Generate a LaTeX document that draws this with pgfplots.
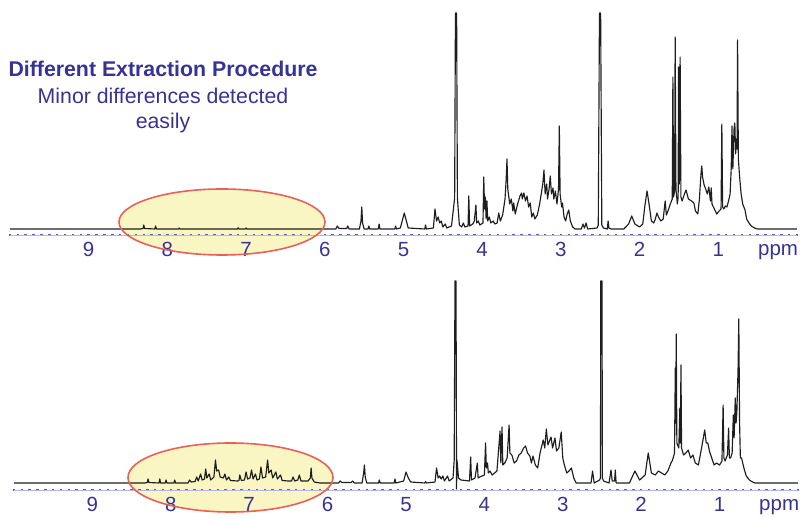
\documentclass[border=0pt]{standalone}
\usepackage{fontspec}
\setmainfont{Liberation Sans}
\usepackage{pgfplots}
\pgfplotsset{compat=1.18}
\usepackage{pgfplotstable}

\definecolor{labelblue}{RGB}{55,50,150}
\definecolor{axblue}{RGB}{90,90,210}
\definecolor{ellfill}{RGB}{250,246,196}
\definecolor{ellline}{RGB}{232,96,88}
\definecolor{spec}{RGB}{30,30,30}

% spectrum, extraction procedure A (top): ppm, height
\pgfplotstableread{
ppm h
10.0 0
8.34 0
8.31 0.5
8.30 4
8.29 0.5
8.16 0
8.15 3
8.14 0
7.86 0
7.85 1
7.84 0
7.11 0
7.10 1.2
7.09 0
7.01 0
7.00 1
6.99 0
5.86 0
5.84 3
5.82 0.5
5.72 0.5
5.71 3
5.69 0
5.56 0
5.54 8
5.53 22
5.52 6
5.50 0
5.45 0
5.44 3
5.43 0
5.32 0
5.31 5
5.30 0
5.11 0
5.10 3
5.09 0
5.04 1
5.01 10
4.99 16
4.97 10
4.94 1
4.73 0
4.72 4
4.71 0
4.62 1
4.60 20
4.58 8
4.56 12
4.54 6
4.52 8
4.50 2
4.47 5
4.45 1
4.39 3
4.35 31
4.34 216
4.325 216
4.315 31
4.29 4
4.26 2
4.24 6
4.22 2
4.18 3
4.17 33
4.16 3
4.12 5
4.10 8
4.08 24
4.07 6
4.05 8
4.03 4
3.99 6
3.98 52
3.97 20
3.96 32
3.95 10
3.94 28
3.93 8
3.91 12
3.89 6
3.86 8
3.84 5
3.81 6
3.79 16
3.77 8
3.74 14
3.71 30
3.695 50
3.685 70
3.675 40
3.65 25
3.63 30
3.61 18
3.60 26
3.58 15
3.55 25
3.52 33
3.50 36
3.49 30
3.47 36
3.45 28
3.43 33
3.41 22
3.39 26
3.37 12
3.35 16
3.33 10
3.30 14
3.27 25
3.25 35
3.23 45
3.215 59
3.20 35
3.18 45
3.17 30
3.15 40
3.135 53
3.12 35
3.10 41
3.09 30
3.07 38
3.05 25
3.03 40
3.02 103
3.01 35
2.99 22
2.98 26
2.96 12
2.94 8
2.92 15
2.90 19
2.88 8
2.85 2
2.82 0
2.74 0
2.72 5
2.70 1
2.68 6
2.66 0
2.54 1
2.525 4
2.51 216
2.495 216
2.48 4
2.46 1
2.41 0
2.40 8
2.39 1
2.36 0
2.20 0
2.14 5
2.10 13
2.06 5
2.00 2
1.96 5
1.93 25
1.905 38
1.88 25
1.85 8
1.82 6
1.80 10
1.78 16
1.76 12
1.73 8
1.70 10
1.675 28
1.66 14
1.63 20
1.61 25
1.585 30
1.577 152
1.568 32
1.555 38
1.548 192
1.538 40
1.52 25
1.51 32
1.505 162
1.497 45
1.485 172
1.475 32
1.46 28
1.43 35
1.41 39
1.38 30
1.34 28
1.31 26
1.29 18
1.26 15
1.24 30
1.22 55
1.21 63
1.20 52
1.18 44
1.16 40
1.14 35
1.12 42
1.10 28
1.09 41
1.08 25
1.05 20
1.02 15
0.99 18
0.965 20
0.955 105
0.945 22
0.93 20
0.91 23
0.89 22
0.87 28
0.85 35
0.836 60
0.826 103
0.815 60
0.80 100
0.79 106
0.78 75
0.77 90
0.762 80
0.755 189
0.745 70
0.73 53
0.71 35
0.69 25
0.66 19
0.64 10
0.61 6
0.58 3
0.54 1
0.50 0
0.00 0
}\topspec

% spectrum, extraction procedure B (bottom): ppm, height
\pgfplotstableread{
ppm h
10.0 0
8.33 0
8.30 0.5
8.29 4
8.28 0.5
8.15 0
8.14 4
8.13 0
8.07 0
8.06 3
8.05 0
7.96 0
7.95 3
7.94 0
7.78 0
7.76 3
7.74 1
7.69 1.5
7.67 6
7.65 2
7.62 9
7.60 3
7.57 4
7.555 14
7.54 5
7.51 9
7.49 3
7.45 6
7.43 23
7.415 12
7.39 13
7.37 6
7.33 5
7.31 9
7.29 3
7.26 6
7.24 2.5
7.15 2
7.13 2.5
7.12 8
7.10 2.5
7.06 3
7.04 11
7.02 4
6.99 5
6.97 13
6.95 4
6.92 9
6.90 3
6.87 4
6.85 16
6.83 5
6.79 6
6.765 23
6.75 10
6.72 13
6.70 5
6.66 11
6.64 4
6.60 8
6.58 2.5
6.50 2
6.46 2
6.44 6
6.42 2
6.38 3
6.36 8
6.34 2
6.25 2
6.22 5
6.21 15
6.20 5
6.17 1
6.10 0
5.86 0
5.84 2
5.82 0.5
5.70 0.5
5.68 2
5.66 0
5.56 0
5.54 10
5.53 18
5.52 6
5.50 0
5.35 0
5.34 3
5.33 0
5.15 0
5.14 4
5.13 0
5.03 2
5.00 11
4.97 5
4.94 1
4.76 0
4.75 1.5
4.74 0
4.63 1
4.61 15
4.59 5
4.57 7
4.55 4
4.53 7
4.51 2
4.47 7
4.45 2
4.40 5
4.385 23
4.375 202
4.362 202
4.355 -6
4.35 23
4.33 5
4.30 3
4.19 2
4.175 26
4.165 3
4.12 5
4.09 20
4.08 5
4.06 6
4.00 8
3.985 40
3.975 15
3.96 20
3.95 10
3.93 12
3.90 8
3.87 10
3.84 12
3.80 52
3.79 20
3.775 56
3.765 18
3.74 20
3.71 25
3.685 58
3.675 30
3.65 28
3.62 20
3.59 22
3.56 28
3.53 30
3.50 35
3.475 37
3.45 30
3.42 27
3.40 20
3.38 27
3.35 18
3.32 15
3.29 30
3.25 43
3.23 35
3.21 54
3.19 38
3.17 42
3.15 46
3.13 35
3.10 45
3.08 32
3.05 35
3.02 51
3.00 25
2.98 18
2.95 10
2.92 12
2.89 15
2.86 5
2.83 0
2.64 0
2.62 12
2.60 0
2.53 3
2.52 5
2.515 202
2.50 202
2.495 5
2.48 2
2.41 0
2.385 13
2.37 2
2.34 2
2.33 13
2.32 0
2.15 0
2.08 12
2.02 3
1.95 8
1.91 30
1.87 10
1.82 8
1.78 12
1.74 10
1.70 8
1.66 12
1.62 20
1.60 23
1.575 30
1.565 115
1.56 60
1.553 149
1.545 40
1.52 35
1.507 75
1.50 40
1.493 118
1.485 35
1.46 28
1.43 30
1.40 33
1.37 25
1.34 28
1.31 20
1.27 18
1.23 35
1.19 53
1.17 40
1.15 40
1.13 32
1.10 25
1.07 18
1.04 20
1.00 18
0.97 22
0.955 78
0.945 25
0.93 22
0.90 28
0.885 55
0.875 25
0.86 25
0.84 30
0.825 68
0.815 45
0.80 85
0.79 60
0.78 70
0.765 112
0.755 164
0.745 60
0.735 25
0.72 25
0.69 15
0.66 7
0.62 3
0.58 1
0.55 0
0.00 0
}\botspec

\pgfplotsset{nmr/.style={
  scale only axis, x dir=reverse, xmin=0, xmax=10, clip=false,
  axis x line*=bottom, axis y line=none,
  x axis line style={-, draw=axblue!45, line width=0.8pt},
  xtick={1,2,3,4,5,6,7,8,9},
  xticklabels={1,2,3,4,5,6,7,8,9},
  minor xtick={0,0.1,...,10},
  tick align=center,
  major tick length=2.5pt, minor tick length=1.3pt,
  every major tick/.append style={draw=axblue, line width=2pt},
  every minor tick/.append style={draw=axblue, line width=2.5pt},
  xticklabel style={font=\fontsize{20.5}{24}\selectfont, text=labelblue},
  typeset ticklabels with strut,
  extra x ticks={0.24}, extra x tick labels={ppm},
  extra x tick style={major tick length=0pt},
  spec/.style={draw=spec, line width=1.15pt, line join=round, mark=none},
}}

\begin{document}
\begin{tikzpicture}
\useasboundingbox (0pt,0pt) rectangle (803pt,519pt);

% highlight fills behind the spectra
\fill[ellfill] (222pt,297pt) ellipse [x radius=103pt, y radius=33pt];
\fill[ellfill] (230.5pt,41.5pt) ellipse [x radius=102.5pt, y radius=34.5pt];

\begin{axis}[nmr, at={(10pt,284pt)}, anchor=south west,
    width=787pt, height=222pt, ymin=-6, ymax=216]
  \addplot[spec] table[x=ppm, y=h] {\topspec};
\end{axis}

\begin{axis}[nmr, at={(14pt,29pt)}, anchor=south west,
    width=784pt, height=211pt, ymin=-7, ymax=204]
  \addplot[spec] table[x=ppm, y=h] {\botspec};
\end{axis}

\draw[ellline, line width=1.6pt] (222pt,297pt) ellipse [x radius=103pt, y radius=33pt];
\draw[ellline, line width=1.6pt] (230.5pt,41.5pt) ellipse [x radius=102.5pt, y radius=34.5pt];

\node[anchor=base, text=labelblue, font=\fontsize{21.3}{25}\selectfont\bfseries]
  at (163pt,442pt) {Different Extraction Procedure};
\node[anchor=base, text=labelblue, font=\fontsize{21.3}{25}\selectfont]
  at (163pt,415pt) {Minor differences detected};
\node[anchor=base, text=labelblue, font=\fontsize{21.3}{25}\selectfont]
  at (163pt,390pt) {easily};
\end{tikzpicture}
\end{document}
